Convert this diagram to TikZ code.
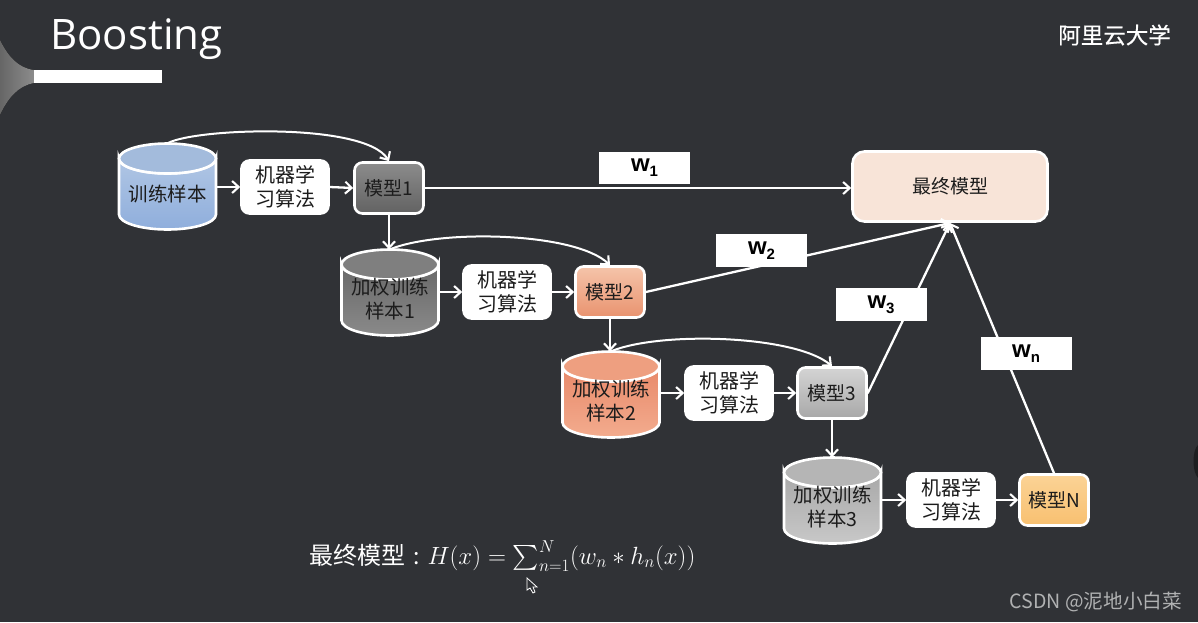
\documentclass[tikz,border=0pt]{standalone}
\usepackage{fontspec}
\usepackage{amsmath}
\setmainfont{Open Sans}
\newfontfamily\cjk{Noto Sans CJK SC}
\newfontfamily\cjkm{Noto Sans CJK SC}[FakeBold=0.5]
\newfontfamily\wfont{Liberation Sans}
\usetikzlibrary{arrows.meta,calc}
\definecolor{bgc}{HTML}{303236}
\definecolor{ink}{HTML}{1C1C1C}
\definecolor{FinalC}{HTML}{F8E4D8}
\definecolor{lidA}{HTML}{A3BBDC}\definecolor{topA}{HTML}{B0C6E4}\definecolor{botA}{HTML}{8FAEDC}
\definecolor{lidB}{HTML}{7F7F7F}\definecolor{topB}{HTML}{686868}\definecolor{botB}{HTML}{8A8A8A}
\definecolor{lidC}{HTML}{EE9F80}\definecolor{topC}{HTML}{E8896A}\definecolor{botC}{HTML}{F3AC8E}
\definecolor{lidD}{HTML}{B5B5B5}\definecolor{topD}{HTML}{A8A8A8}\definecolor{botD}{HTML}{C8C8C8}
\definecolor{mAt}{HTML}{8C8C8C}\definecolor{mAb}{HTML}{626262}
\definecolor{mBt}{HTML}{F5C4AA}\definecolor{mBb}{HTML}{E9936F}
\definecolor{mCt}{HTML}{D4D4D4}\definecolor{mCb}{HTML}{A8A8A8}
\definecolor{mDt}{HTML}{FBD396}\definecolor{mDb}{HTML}{F8C070}
\tikzset{
  x=1pt,y=-1pt,
  conn/.style={draw=white,line width=2.3pt,line cap=round},
  arr/.style={conn,-{Straight Barb[length=6.5pt,width=12pt,line width=2.1pt]}},
  curved/.style={arr,line width=2pt},
  boxbase/.style={draw=white,line width=2.6pt,rounded corners=8pt,inner sep=0pt,align=center,text=ink,font=\cjk\fontsize{19}{23.5}\selectfont},
  algo/.style={boxbase,fill=white,minimum width=87pt,minimum height=53pt,font=\cjk\fontsize{20}{23.5}\selectfont},
  model/.style={boxbase,minimum width=69pt,minimum height=51pt},
  final/.style={boxbase,fill=FinalC,rounded corners=12pt,minimum width=195pt,minimum height=70pt},
  wbox/.style={fill=white,inner sep=0pt,minimum width=91pt,minimum height=32.5pt,text=black,font=\wfont\bfseries\fontsize{24}{26}\selectfont},
  cyltext/.style={inner sep=0pt,align=center,text=ink,font=\cjk\fontsize{19.5}{24}\selectfont},
  cylline/.style={draw=white,line width=2.6pt},
}
\newcommand{\wsub}[1]{w\raisebox{-5pt}{\fontsize{15}{15}\selectfont #1}}
\newcommand{\cylinder}[8]{% name, left x, top y, lid, body top, body bottom, text, text y
  \path[cylline,top color=#5,bottom color=#6]
    (#2,#3+15) -- (#2,#3+71) arc[x radius=48.5,y radius=15,start angle=180,end angle=0]
    -- (#2+97,#3+15) arc[x radius=48.5,y radius=15,start angle=0,end angle=180] -- cycle;
  \path[cylline,fill=#4] (#2+48.5,#3+15) ellipse[x radius=48.5,y radius=15];
  \node[inner sep=0pt,minimum width=97pt,minimum height=86pt] (#1) at (#2+48.5,#3+43) {};
  \node[cyltext] (#1t) at (#2+48.5,#8) {#7};
}
\begin{document}
\begin{tikzpicture}
\useasboundingbox (0,0) rectangle (1198,622);
\fill[bgc] (0,0) rectangle (1198,622);
% funnel decoration, bar, edge blob
\fill[left color=gray!80!black,right color=gray!90!white]
  (0,40) .. controls (8,56) and (18,68) .. (34,70) -- (34,83) .. controls (18,86) and (8,98) .. (0,115) -- cycle;
\fill[white] (34,70) rectangle (162,83);
\fill[black!40!bgc] (1198,445) .. controls (1192,450) and (1192,472) .. (1198,478) -- cycle;
\node[anchor=west,inner sep=0pt,text=white,font=\fontsize{42}{50}\selectfont] (title) at (50,39) {Boosting};
\node[anchor=east,inner sep=0pt,text=white,font=\cjkm\fontsize{22.5}{26}\selectfont] (brand) at (1171,35) {阿里云大学};
\coordinate (ftip) at (950,223);
% cylinders
\cylinder{c1}{119}{143.5}{lidA}{topA}{botA}{训练样本}{194}
\cylinder{c2}{341.5}{249.5}{lidB}{topB}{botB}{加权训练\\样本1}{299}
\cylinder{c3}{562.5}{351.5}{lidC}{topC}{botC}{加权训练\\样本2}{401}
\cylinder{c4}{784}{457.5}{lidD}{topD}{botD}{加权训练\\样本3}{507}
% algorithm boxes
\node[algo] (a1) at (285,187) {机器学\\习算法};
\node[algo] (a2) at (507,292) {机器学\\习算法};
\node[algo] (a3) at (729,393) {机器学\\习算法};
\node[algo] (a4) at (951,500) {机器学\\习算法};
% model boxes
\node[model,top color=mAt,bottom color=mAb] (m1) at (389,188) {模型1};
\node[model,top color=mBt,bottom color=mBb] (m2) at (610,292) {模型2};
\node[model,top color=mCt,bottom color=mCb] (m3) at (832,393) {模型3};
\node[model,top color=mDt,bottom color=mDb] (mn) at (1054,500) {模型N};
\node[final] (f) at (950,186.5) {最终模型};
% connectors
\draw[arr] (c1.east |- a1) -- (a1.west);
\draw[arr] (a1.east) -- (m1.west);
\draw[arr] (c2.east |- a2) -- (a2.west);
\draw[arr] (a2.east) -- (m2.west);
\draw[arr] (c3.east |- a3) -- (a3.west);
\draw[arr] (a3.east) -- (m3.west);
\draw[arr] (c4.east |- a4) -- (a4.west);
\draw[arr] (a4.east) -- (mn.west);
\draw[arr] (m1.south) -- (m1.south |- c2.north);
\draw[arr] (m2.south) -- (m2.south |- c3.north);
\draw[arr] (m3.south) -- (m3.south |- c4.north);
\draw[curved] (c1.north) .. controls (195,128) and (365,122) .. (m1.north);
\draw[curved] (c2.north) .. controls (440,229) and (575,232) .. (m2.north);
\draw[curved] (c3.north) .. controls (660,331) and (795,335) .. (m3.north);
\draw[arr] (m1.east) -- (f.west |- m1.east);
\draw[arr] (m2.east) -- (ftip);
\draw[arr] (m3.east) -- (ftip);
\draw[arr] (mn.north) -- (ftip);
% weight labels
\node[wbox] (w1) at (644.5,168) {\wsub{1}};
\node[wbox] (w2) at (761.5,250.5) {\wsub{2}};
\node[wbox] (w3) at (881,304.5) {\wsub{3}};
\node[wbox] (wn) at (1026,353.5) {\wsub{n}};
% formula
\node[anchor=base west,inner sep=0pt,text=white,font=\fontsize{22.9}{26}\selectfont] (fm) at (309,564)
 {{\cjk\fontsize{24}{26}\selectfont 最终模型}\hspace{8pt}{\cjk :}\hspace{8pt}$H(x)=\sum\nolimits_{n=1}^{N}(w_n*h_n(x))$};
% cursor
\draw[white,line width=.8pt,fill=bgc] (527,578) -- (527,590) -- (530,588) -- (533,593) -- (535,592) -- (533,587) -- (537,587) -- cycle;
\node[anchor=east,inner sep=0pt,text=white!62!bgc,font=\cjk\fontsize{19.6}{22}\selectfont] (mark) at (1182,602) {CSDN @泥地小白菜};
\end{tikzpicture}
\end{document}
